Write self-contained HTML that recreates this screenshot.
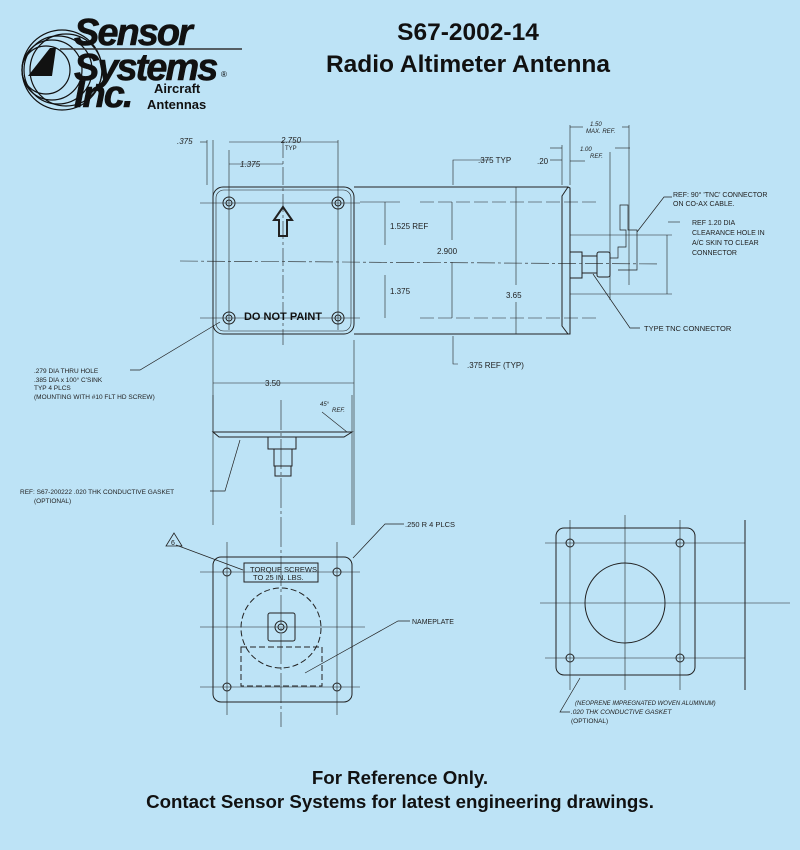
<!DOCTYPE html>
<html><head><meta charset="utf-8"><style>
html,body{margin:0;padding:0;background:#bde3f6;}
svg{display:block;}
.d{font-family:"Liberation Sans",sans-serif;font-size:8px;fill:#222;}
</style></head><body>
<svg width="800" height="850" viewBox="0 0 800 850" xmlns="http://www.w3.org/2000/svg">
<rect width="800" height="850" fill="#bde3f6"/>
<!-- Logo -->
<g fill="none" stroke="#111" stroke-width="1.2">
<circle cx="62" cy="70" r="40"/><circle cx="66" cy="70" r="36"/><circle cx="58" cy="70" r="34"/><circle cx="52" cy="70" r="30"/>
<circle cx="46" cy="70" r="24"/>
</g>
<polygon points="28,76 50,48 56,48 52,76" fill="#111"/>
<line x1="60" y1="49" x2="242" y2="49" stroke="#333" stroke-width="1.5"/>
<g font-family="Liberation Sans,sans-serif" font-weight="bold" font-style="italic" fill="#111" stroke="#111" stroke-width="0.6">
<text x="74" y="45" font-size="38" letter-spacing="-2">Sensor</text>
<text x="74" y="80" font-size="38" letter-spacing="-2">Systems</text>
<text x="74" y="107" font-size="38" letter-spacing="-2">Inc.</text>
</g>
<text x="221" y="77" font-family="Liberation Sans,sans-serif" font-size="8">®</text>
<g font-family="Liberation Sans,sans-serif" font-weight="bold" font-size="13" fill="#111">
<text x="154" y="93">Aircraft</text><text x="147" y="109">Antennas</text>
</g>
<g font-family="Liberation Sans,sans-serif" font-weight="bold" font-size="24.5" fill="#111" text-anchor="middle">
<text x="468" y="40">S67-2002-14</text><text x="468" y="72">Radio Altimeter Antenna</text>
</g>
<g font-family="Liberation Sans,sans-serif" font-weight="bold" font-size="18.7" fill="#111" text-anchor="middle">
<text x="400" y="784">For Reference Only.</text><text x="400" y="808">Contact Sensor Systems for latest engineering drawings.</text>
</g>

<g fill="none" stroke="#222" stroke-width="1">
<rect x="213" y="187" width="141" height="147" rx="10"/>
<rect x="216" y="190" width="135" height="141" rx="8" stroke-width="0.6"/>
<circle cx="229" cy="203" r="6"/><circle cx="229" cy="203" r="3"/>
<circle cx="338" cy="203" r="6"/><circle cx="338" cy="203" r="3"/>
<circle cx="229" cy="318" r="6"/><circle cx="229" cy="318" r="3"/>
<circle cx="338" cy="318" r="6"/><circle cx="338" cy="318" r="3"/>
<polygon points="283,207 274,220 279,220 279,236 287,236 287,220 292,220" stroke-width="2"/>
<g stroke-width="0.6" stroke-dasharray="18,3,3,3">
<line x1="283" y1="140" x2="283" y2="345"/>
<line x1="180" y1="261" x2="660" y2="264"/>
</g>
<g stroke-width="0.6">
<line x1="213" y1="140" x2="213" y2="525"/><line x1="229" y1="150" x2="229" y2="330"/>
<line x1="338" y1="140" x2="338" y2="330"/><line x1="354" y1="340" x2="354" y2="525"/>
<line x1="207" y1="140" x2="207" y2="185"/>
<line x1="200" y1="203" x2="360" y2="203"/><line x1="200" y1="318" x2="360" y2="318"/>
<line x1="360" y1="202" x2="400" y2="202" /><line x1="420" y1="202" x2="600" y2="202" stroke-dasharray="14,4"/>
<line x1="420" y1="318" x2="600" y2="318" stroke-dasharray="14,4"/>
<line x1="229" y1="142" x2="338" y2="142"/><line x1="207" y1="142" x2="200" y2="142"/>
<line x1="229" y1="164" x2="283" y2="164"/>
<line x1="213" y1="383" x2="354" y2="383"/>
<line x1="385" y1="202" x2="385" y2="245"/><line x1="385" y1="275" x2="385" y2="318"/>
<line x1="452" y1="202" x2="452" y2="240"/><line x1="452" y1="262" x2="452" y2="318"/>
<line x1="516" y1="187" x2="516" y2="285"/><line x1="516" y1="302" x2="516" y2="334"/>
<polyline points="490,160 453,160 453,185"/><polyline points="453,336 453,364 458,364"/>
<line x1="562" y1="145" x2="562" y2="185"/><line x1="570" y1="125" x2="570" y2="185"/>
<line x1="610" y1="152" x2="610" y2="300"/><line x1="629" y1="125" x2="629" y2="285"/>
<line x1="570" y1="127" x2="583" y2="127"/><line x1="622" y1="127" x2="629" y2="127"/>
<line x1="550" y1="148" x2="562" y2="148"/><line x1="615" y1="148" x2="630" y2="148"/>
<line x1="550" y1="160" x2="562" y2="160"/><line x1="570" y1="161" x2="585" y2="161"/>
<line x1="570" y1="235" x2="672" y2="235"/><line x1="570" y1="294" x2="672" y2="294"/>
<line x1="667" y1="235" x2="667" y2="294"/><polyline points="668,222 680,222"/>
</g>
<line x1="354" y1="187" x2="568" y2="187"/><line x1="354" y1="334" x2="568" y2="334"/>
<polygon points="568,187 570,188 570,334 568,334 562,326 562,196" />
<rect x="570" y="252" width="12" height="26"/>
<rect x="582" y="256" width="15" height="17"/>
<rect x="597" y="252" width="13" height="25" rx="2"/>
<polyline points="610,258 618,258 618,247 626,247 626,230 620,230 620,205 628,205 628,230 637,230 637,270 618,270" stroke-width="0.7"/>
<polyline points="672,197 664,197 637,232" stroke-width="0.7"/>
<polyline points="640,328 630,328 593,274" stroke-width="0.7"/>
<polyline points="130,370 140,370 220,322" stroke-width="0.7"/>
<polygon points="213,432 352,432 344,437 219,437"/>
<rect x="268" y="437" width="28" height="12"/>
<rect x="274" y="449" width="18" height="17"/><rect x="275" y="466" width="16" height="10"/>
<line x1="213" y1="395" x2="213" y2="432" stroke-width="0.6"/>
<line x1="352" y1="395" x2="352" y2="525" stroke-width="0.6"/>
<line x1="281" y1="400" x2="281" y2="727" stroke-width="0.6" stroke-dasharray="30,3,3,3"/>
<polyline points="322,412 347,432" stroke-width="0.6"/>
<polyline points="210,491 225,491 240,440" stroke-width="0.7"/>
<rect x="213" y="557" width="139" height="145" rx="8"/>
<circle cx="227" cy="572" r="4"/><circle cx="337" cy="572" r="4"/><circle cx="227" cy="687" r="4"/><circle cx="337" cy="687" r="4"/>
<rect x="244" y="563" width="74" height="19"/>
<circle cx="281" cy="628" r="40" stroke-dasharray="6,3"/>
<rect x="268" y="613" width="27" height="28" rx="2"/><circle cx="281" cy="627" r="6"/><circle cx="281" cy="627" r="3"/>
<rect x="241" y="647" width="81" height="39" stroke-dasharray="6,3"/>
<g stroke-width="0.6">
<line x1="200" y1="572" x2="360" y2="572"/><line x1="200" y1="687" x2="360" y2="687"/>
<line x1="200" y1="627" x2="365" y2="627"/>
<line x1="227" y1="542" x2="227" y2="715"/><line x1="337" y1="542" x2="337" y2="715"/>
</g>
<polyline points="404,524 385,524 353,558" stroke-width="0.7"/>
<polyline points="410,621 398,621 305,673" stroke-width="0.7"/>
<polyline points="176,545 243,570" stroke-width="0.7"/>
<polygon points="174,533 166,546 182,546" stroke-width="0.8"/>
<rect x="556" y="528" width="139" height="147" rx="8"/>
<circle cx="570" cy="543" r="4"/><circle cx="680" cy="543" r="4"/><circle cx="570" cy="658" r="4"/><circle cx="680" cy="658" r="4"/>
<circle cx="625" cy="603" r="40"/>
<line x1="745" y1="520" x2="745" y2="690"/>
<g stroke-width="0.6">
<line x1="540" y1="603" x2="790" y2="603"/><line x1="625" y1="515" x2="625" y2="690"/>
<line x1="545" y1="543" x2="745" y2="543"/><line x1="545" y1="658" x2="745" y2="658"/>
<line x1="570" y1="520" x2="570" y2="690"/><line x1="680" y1="520" x2="680" y2="690"/>
</g>
<polyline points="570,712 560,712 580,678" stroke-width="0.7"/>
</g>
<g class="d">
<text x="177" y="144" font-style="italic">.375</text>
<text x="281" y="143" font-style="italic">2.750</text><text x="285" y="150" font-size="6">TYP</text>
<text x="240" y="167" font-style="italic">1.375</text>
<text x="390" y="229">1.525 REF</text>
<text x="437" y="254">2.900</text>
<text x="390" y="294">1.375</text>
<text x="506" y="298">3.65</text>
<text x="478" y="163">.375 TYP</text>
<text x="467" y="368">.375 REF (TYP)</text>
<text x="537" y="164">.20</text>
<text x="580" y="151" font-size="6" font-style="italic">1.00</text><text x="590" y="158" font-size="6" font-style="italic">REF.</text>
<text x="590" y="126" font-size="6" font-style="italic">1.50</text><text x="586" y="133" font-size="6" font-style="italic">MAX. REF.</text>
<text x="673" y="197" font-size="7">REF: 90° 'TNC' CONNECTOR</text>
<text x="673" y="206" font-size="7">ON CO-AX CABLE.</text>
<text x="692" y="225" font-size="7">REF 1.20 DIA</text>
<text x="692" y="235" font-size="7">CLEARANCE HOLE IN</text>
<text x="692" y="245" font-size="7">A/C SKIN TO CLEAR</text>
<text x="692" y="255" font-size="7">CONNECTOR</text>
<text x="644" y="331" font-size="7.5">TYPE TNC CONNECTOR</text>
<text x="265" y="386">3.50</text>
<text x="34" y="373" font-size="6.5">.279 DIA THRU HOLE</text>
<text x="34" y="382" font-size="6.5">.385 DIA x 100° C'SINK</text>
<text x="34" y="390" font-size="6.5">TYP 4 PLCS</text>
<text x="34" y="399" font-size="6.5">(MOUNTING WITH #10 FLT HD SCREW)</text>
<text x="320" y="406" font-size="6" font-style="italic">45°</text><text x="332" y="412" font-size="6" font-style="italic">REF.</text>
<text x="20" y="494" font-size="6.5">REF: S67-200222  .020 THK CONDUCTIVE GASKET</text>
<text x="34" y="503" font-size="6.5">(OPTIONAL)</text>
<text x="405" y="527" font-size="7.5">.250 R  4 PLCS</text>
<text x="412" y="624" font-size="7">NAMEPLATE</text>
<text x="171" y="545" font-size="7">6</text>
<text x="250" y="572" font-size="7.5">TORQUE SCREWS</text>
<text x="253" y="580" font-size="7.5">TO 25 IN. LBS.</text>
<text x="575" y="705" font-size="6" font-style="italic">(NEOPRENE IMPREGNATED WOVEN ALUMINUM)</text>
<text x="571" y="714" font-size="6.5" font-style="italic">.020 THK CONDUCTIVE GASKET</text>
<text x="571" y="723" font-size="6.5">(OPTIONAL)</text>
</g>
<text x="283" y="320" text-anchor="middle" font-family="Liberation Sans,sans-serif" font-weight="bold" font-size="11" fill="#111">DO NOT PAINT</text>
</svg>
</body></html>
